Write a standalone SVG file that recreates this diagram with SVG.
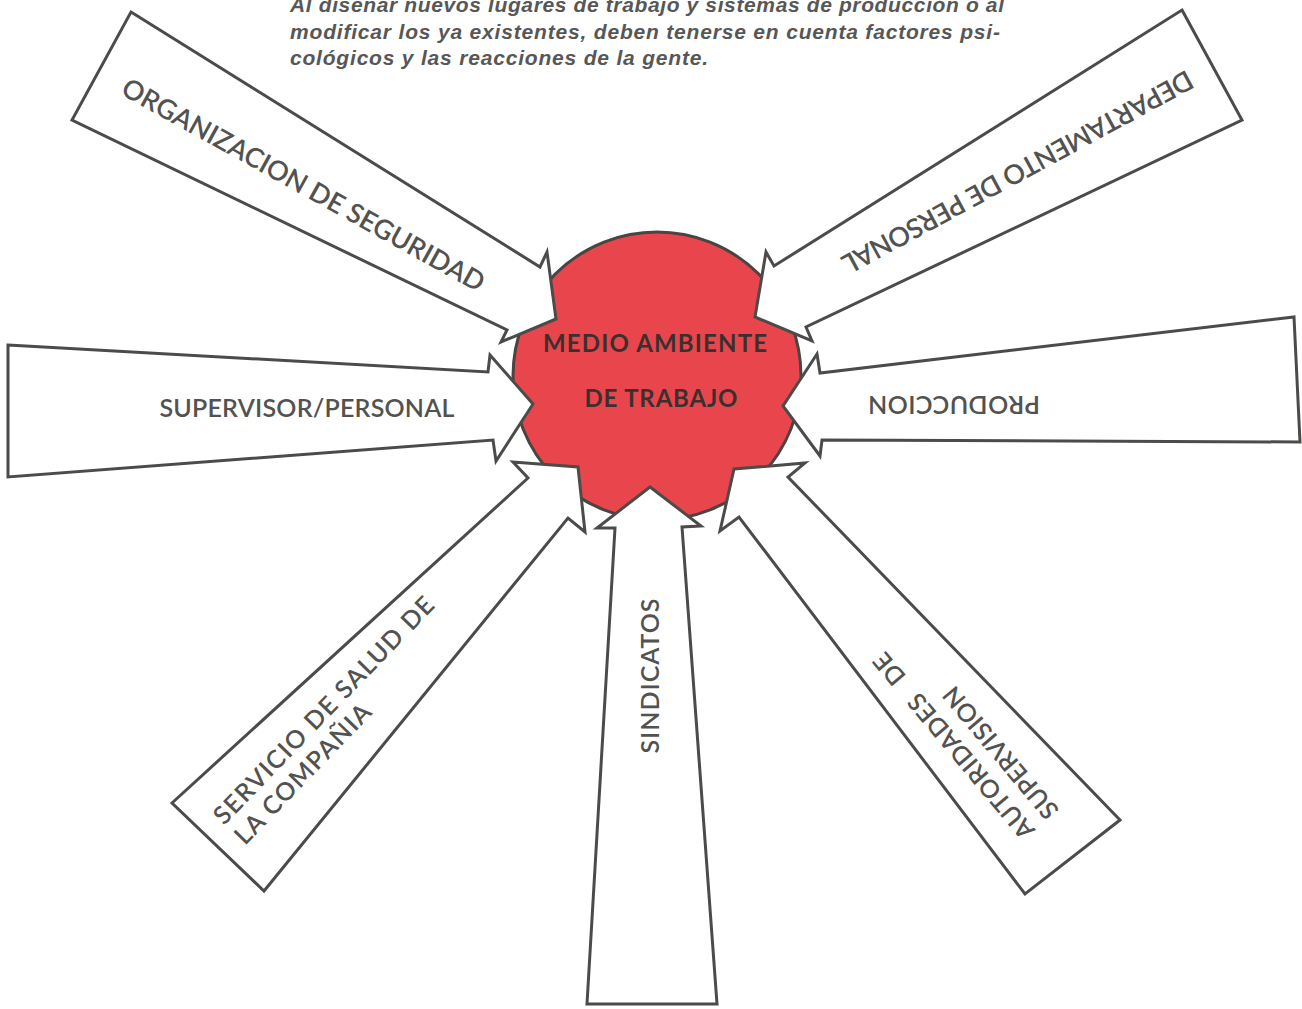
<svg xmlns="http://www.w3.org/2000/svg" width="1302" height="1009" viewBox="0 0 1302 1009">
  <style>
    .arrow { fill: #ffffff; stroke: #4b4b49; stroke-width: 3; stroke-linejoin: miter; }
    .hub { fill: #e8464c; stroke: #4a4442; stroke-width: 3; }
    .lbl { font-family: Lato, "Open Sans", "Liberation Sans", sans-serif; font-size: 25px; font-weight: 600; fill: #525250; }
    .big { font-size: 27px; }
    .hubtxt { font-family: Lato, "Open Sans", "Liberation Sans", sans-serif; font-size: 24px; font-weight: 700; fill: #3b302f; }
    .title { font-family: "Liberation Sans", Arial, sans-serif; font-size: 21px; font-weight: 700; font-style: italic; fill: #575757; }
  </style>
  <rect x="0" y="0" width="1302" height="1009" fill="#ffffff"/>

  <g id="caption">
    <text class="title" x="290" y="12" textLength="714" lengthAdjust="spacing">Al diseñar nuevos lugares de trabajo y sistemas de producción o al</text>
    <text class="title" x="290" y="39" textLength="710" lengthAdjust="spacing">modificar los ya existentes, deben tenerse en cuenta factores psi-</text>
    <text class="title" x="290" y="65" textLength="418" lengthAdjust="spacing">cológicos y las reacciones de la gente.</text>
  </g>

  <g id="hub">
    <circle class="hub" cx="657" cy="376" r="144"/>
  </g>

  <g id="connectors">
    <g id="arrow-organizacion">
      <polygon class="arrow" points="131,12 540,267 547,252 556,319 501,342 507,330 72,120"/>
    </g>
    <g id="arrow-departamento">
      <polygon class="arrow" points="1182,10 1242,120 806,327 812,341 755,317 766,252 774,266"/>
    </g>
    <g id="arrow-supervisor">
      <polygon class="arrow" points="8,345 488,372 490,355 533,404 496,461 493,440 8,477"/>
    </g>
    <g id="arrow-produccion">
      <polygon class="arrow" points="1294,317 1300,442 822,440 820,456 783,406 817,354 820,373"/>
    </g>
    <g id="arrow-servicio">
      <polygon class="arrow" points="172,803 528,478 513,462 578,467 585,532 568,518 264,891"/>
    </g>
    <g id="arrow-sindicatos">
      <polygon class="arrow" points="587,1004 615,528 597,528 650,487 701,526 682,527 717,1004"/>
    </g>
    <g id="arrow-autoridades">
      <polygon class="arrow" points="1120,820 788,477 805,463 734,469 720,531 739,517 1025,894"/>
    </g>
  </g>

  <g id="node-hub-label">
    <text class="hubtxt" x="655" y="352" text-anchor="middle" textLength="224" lengthAdjust="spacing">MEDIO AMBIENTE</text>
    <text class="hubtxt" x="661" y="407" text-anchor="middle" textLength="153" lengthAdjust="spacing">DE TRABAJO</text>
  </g>

  <g id="node-organizacion">
    <text class="lbl big" transform="translate(304,184) rotate(29)" text-anchor="middle" dominant-baseline="central" textLength="410" lengthAdjust="spacing">ORGANIZACION DE SEGURIDAD</text>
  </g>
  <g id="node-departamento">
    <text class="lbl big" transform="translate(1018,173) rotate(151.5)" text-anchor="middle" dominant-baseline="central" textLength="395" lengthAdjust="spacing">DEPARTAMENTO DE PERSONAL</text>
  </g>
  <g id="node-supervisor">
    <text class="lbl" x="307" y="407" text-anchor="middle" dominant-baseline="central" textLength="295" lengthAdjust="spacing">SUPERVISOR/PERSONAL</text>
  </g>
  <g id="node-produccion">
    <text class="lbl" transform="translate(954,406) rotate(180)" text-anchor="middle" dominant-baseline="central" textLength="172" lengthAdjust="spacing">PRODUCCION</text>
  </g>
  <g id="node-servicio">
    <text class="lbl" transform="translate(224,826) rotate(-46)" textLength="305" lengthAdjust="spacing">SERVICIO DE SALUD DE</text>
    <text class="lbl" transform="translate(245,846) rotate(-46)" textLength="184" lengthAdjust="spacing">LA COMPAÑIA</text>
  </g>
  <g id="node-sindicatos">
    <text class="lbl" transform="translate(649,676) rotate(-90)" text-anchor="middle" dominant-baseline="central" textLength="155" lengthAdjust="spacing">SINDICATOS</text>
  </g>
  <g id="node-autoridades">
    <text class="lbl" transform="translate(1036,830) rotate(230)" letter-spacing="0.6">AUTORIDADES <tspan dx="12">DE</tspan></text>
    <text class="lbl" transform="translate(1060,810) rotate(230)" textLength="164" lengthAdjust="spacing">SUPERVISION</text>
  </g>
</svg>
